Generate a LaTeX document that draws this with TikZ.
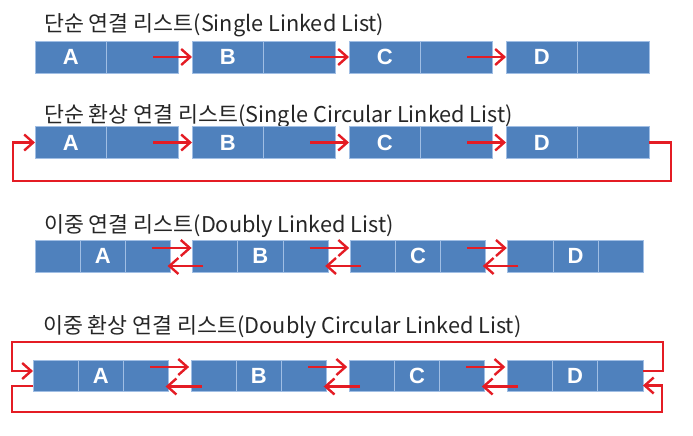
\documentclass[tikz,border=0pt]{standalone}
\usepackage{fontspec}
\setmainfont{Liberation Sans}
\newfontfamily\krfont{Noto Sans CJK KR}
\usepackage{tikz}
\usetikzlibrary{arrows, arrows.meta, positioning}
\definecolor{cellblue}{RGB}{79,129,189}
\definecolor{celledge}{RGB}{160,190,228}
\definecolor{linkred}{RGB}{228,28,36}
\tikzstyle{title} = [anchor=base west, inner sep=0pt, font=\krfont\fontsize{21.7}{26}\selectfont, text=black!85]
\tikzstyle{wide} = [rectangle, minimum width=71.5pt, minimum height=32pt, inner sep=0pt, outer sep=0pt, draw=celledge, line width=0.8pt, fill=cellblue, text=white, font=\bfseries\fontsize{22}{24}\selectfont]
\tikzstyle{narrow} = [wide, minimum width=45.2pt]
\tikzstyle{arrow} = [draw=linkred, line width=2.4pt, -{Straight Barb[length=9pt,width=16pt,line width=2.4pt]}]
\tikzstyle{loop} = [arrow, line width=2.2pt]

\begin{document}
\begin{tikzpicture}[x=1pt, y=-1pt]
        \useasboundingbox (0,0) rectangle (693,436);

        % single linked list
        \node (t1) [title] at (44,32) {단순 연결 리스트(Single Linked List)};
        \node (l1a) [wide, anchor=west] at (35,57) {A};
        \node (l1ap) [wide, right=0pt of l1a] {};
        \node (l1b) [wide, right=14pt of l1ap] {B};
        \node (l1bp) [wide, right=0pt of l1b] {};
        \node (l1c) [wide, right=14pt of l1bp] {C};
        \node (l1cp) [wide, right=0pt of l1c] {};
        \node (l1d) [wide, right=14pt of l1cp] {D};
        \node (l1dp) [wide, right=0pt of l1d] {};

        \draw [arrow] ([xshift=11pt]l1ap.center) -- (l1b.west);
        \draw [arrow] ([xshift=11pt]l1bp.center) -- (l1c.west);
        \draw [arrow] ([xshift=11pt]l1cp.center) -- (l1d.west);

        % single circular linked list
        \node (t2) [title] at (44,122) {단순 환상 연결 리스트(Single Circular Linked List)};
        \node (l2a) [wide, anchor=west] at (35,142.5) {A};
        \node (l2ap) [wide, right=0pt of l2a] {};
        \node (l2b) [wide, right=14pt of l2ap] {B};
        \node (l2bp) [wide, right=0pt of l2b] {};
        \node (l2c) [wide, right=14pt of l2bp] {C};
        \node (l2cp) [wide, right=0pt of l2c] {};
        \node (l2d) [wide, right=14pt of l2cp] {D};
        \node (l2dp) [wide, right=0pt of l2d] {};

        \draw [arrow] ([xshift=11pt]l2ap.center) -- (l2b.west);
        \draw [arrow] ([xshift=11pt]l2bp.center) -- (l2c.west);
        \draw [arrow] ([xshift=11pt]l2cp.center) -- (l2d.west);
        \draw [loop] (l2dp.east) -- ++(22,0) |- (13,181) |- (l2a.west);

        % doubly linked list
        \node (t3) [title] at (44,232) {이중 연결 리스트(Doubly Linked List)};
        \node (l3al) [narrow, anchor=west, minimum height=32pt] at (35,256) {};
        \node (l3a) [narrow, right=0pt of l3al] {A};
        \node (l3ar) [narrow, right=0pt of l3a] {};
        \node (l3bl) [narrow, right=22pt of l3ar] {};
        \node (l3b) [narrow, right=0pt of l3bl] {B};
        \node (l3br) [narrow, right=0pt of l3b] {};
        \node (l3cl) [narrow, right=22pt of l3br] {};
        \node (l3c) [narrow, right=0pt of l3cl] {C};
        \node (l3cr) [narrow, right=0pt of l3c] {};
        \node (l3dl) [narrow, right=22pt of l3cr] {};
        \node (l3d) [narrow, right=0pt of l3dl] {D};
        \node (l3dr) [narrow, right=0pt of l3d] {};

        \draw [arrow] ([xshift=4pt,yshift=8pt]l3ar.center) -- ([xshift=-1pt,yshift=8pt]l3bl.west);
        \draw [arrow] ([xshift=4pt,yshift=8pt]l3br.center) -- ([xshift=-1pt,yshift=8pt]l3cl.west);
        \draw [arrow] ([xshift=4pt,yshift=8pt]l3cr.center) -- ([xshift=-1pt,yshift=8pt]l3dl.west);
        \draw [arrow] ([xshift=-12pt,yshift=-10pt]l3bl.center) -- ([xshift=-3pt,yshift=-10pt]l3ar.east);
        \draw [arrow] ([xshift=-12pt,yshift=-10pt]l3cl.center) -- ([xshift=-3pt,yshift=-10pt]l3br.east);
        \draw [arrow] ([xshift=-12pt,yshift=-10pt]l3dl.center) -- ([xshift=-3pt,yshift=-10pt]l3cr.east);

        % doubly circular linked list
        \node (t4) [title] at (43,333) {이중 환상 연결 리스트(Doubly Circular Linked List)};
        \node (l4al) [narrow, anchor=west, minimum height=31pt] at (33,375.5) {};
        \node (l4a) [narrow, minimum height=31pt, right=0pt of l4al] {A};
        \node (l4ar) [narrow, minimum height=31pt, right=0pt of l4a] {};
        \node (l4bl) [narrow, minimum height=31pt, right=22.5pt of l4ar] {};
        \node (l4b) [narrow, minimum height=31pt, right=0pt of l4bl] {B};
        \node (l4br) [narrow, minimum height=31pt, right=0pt of l4b] {};
        \node (l4cl) [narrow, minimum height=31pt, right=22.5pt of l4br] {};
        \node (l4c) [narrow, minimum height=31pt, right=0pt of l4cl] {C};
        \node (l4cr) [narrow, minimum height=31pt, right=0pt of l4c] {};
        \node (l4dl) [narrow, minimum height=31pt, right=22.5pt of l4cr] {};
        \node (l4d) [narrow, minimum height=31pt, right=0pt of l4dl] {D};
        \node (l4dr) [narrow, minimum height=31pt, right=0pt of l4d] {};

        \draw [arrow] ([xshift=4pt,yshift=8.5pt]l4ar.center) -- ([xshift=-2pt,yshift=8.5pt]l4bl.west);
        \draw [arrow] ([xshift=4pt,yshift=8.5pt]l4br.center) -- ([xshift=-2pt,yshift=8.5pt]l4cl.west);
        \draw [arrow] ([xshift=4pt,yshift=8.5pt]l4cr.center) -- ([xshift=-2pt,yshift=8.5pt]l4dl.west);
        \draw [arrow] ([xshift=-12pt,yshift=-11pt]l4bl.center) -- ([xshift=-3pt,yshift=-11pt]l4ar.east);
        \draw [arrow] ([xshift=-12pt,yshift=-11pt]l4cl.center) -- ([xshift=-3pt,yshift=-11pt]l4br.east);
        \draw [arrow] ([xshift=-12pt,yshift=-11pt]l4dl.center) -- ([xshift=-3pt,yshift=-11pt]l4cr.east);
        \draw [loop] ([yshift=4.5pt]l4dr.east) -- ++(20,0) |- (12,342) |- ([yshift=4.5pt]l4al.west);
        \draw [loop] ([yshift=-10.5pt]l4al.west) -- ++(-21,0) |- (662,412) |- ([yshift=-10pt]l4dr.east);
    \end{tikzpicture}
\end{document}
